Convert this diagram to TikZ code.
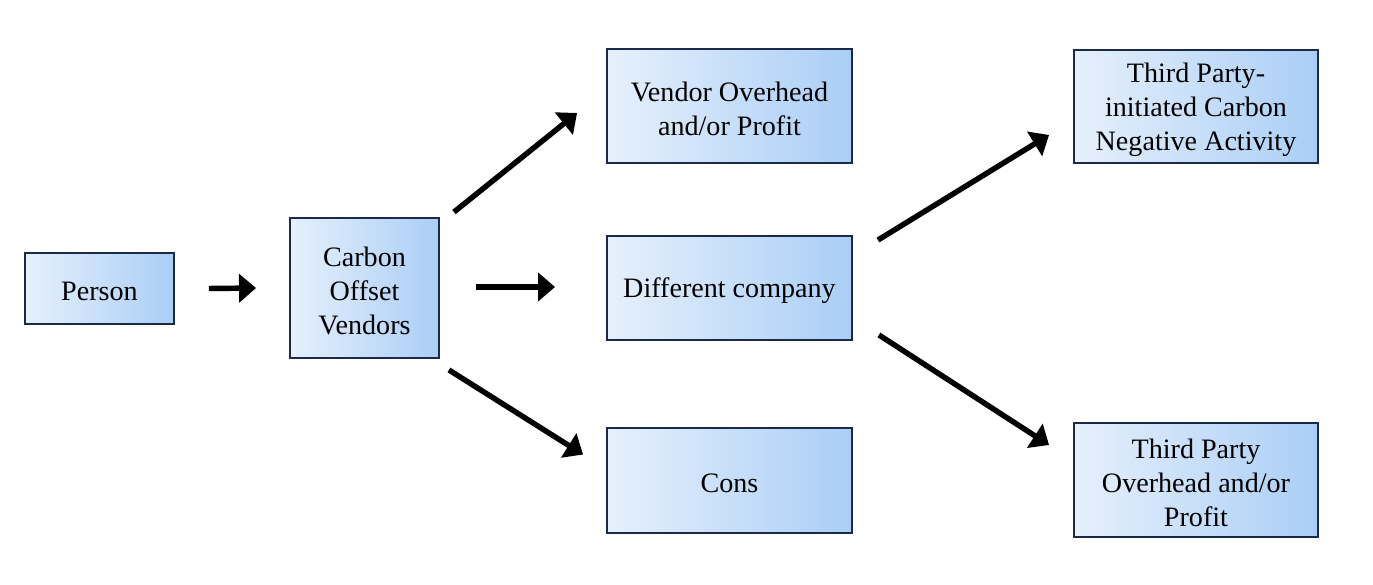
\documentclass[tikz,border=0pt]{standalone}
\usepackage{fontspec}
\setmainfont{Liberation Serif}
\usepackage{tikz}
\usetikzlibrary{calc}
\usetikzlibrary{arrows.meta}
\definecolor{boxline}{HTML}{1C2A4A}
\definecolor{boxleft}{HTML}{E6F0FC}
\definecolor{boxright}{HTML}{AACEF6}
\tikzset{
  stage/.style={draw=boxline, line width=1.1pt, left color=boxleft, right color=boxright,
    inner sep=0pt},
  stagetext/.style={align=center, inner sep=0pt, font=\fontsize{16}{19.3}\selectfont},
  flow/.style={line width=3.1pt, -{Triangle[length=0.34cm,width=0.56cm]}}
}
\newcommand{\stagebox}[5]{\node[stage, minimum width=#4cm, minimum height=#5cm] (#1) at (#2) {};
  \node[stagetext] at ($(#1.center)+(0,3)$) {#3};}

\begin{document}
\begin{tikzpicture}[x=0.02cm, y=-0.02cm]
        \useasboundingbox (0,0) rectangle (1373,585);

        % column1
        \stagebox{person}{99.5,288.5}{Person}{2.98}{1.42}
        \stagebox{vendors}{364.5,288}{Carbon\\Offset\\Vendors}{2.98}{2.80}

        % column2
        \stagebox{overhead}{729.5,106}{Vendor Overhead\\and/or Profit}{4.90}{2.28}
        \stagebox{company}{729.5,288}{Different company}{4.90}{2.08}
        \stagebox{cons}{729.5,480.5}{Cons}{4.90}{2.10}

        % column3
        \stagebox{activity}{1196,106.5}{Third Party-\\initiated Carbon\\Negative Activity}{4.88}{2.26}
        \stagebox{thirdprofit}{1196,480}{Third Party\\Overhead and/or\\Profit}{4.88}{2.28}

        % arrows
        \draw[flow] ($(person.east)+(34,0)$) -- ($(vendors.west)+(-33,0)$);
        \draw[flow] ($(vendors.east)+(36,-1)$) -- ($(company.west)+(-51,-1)$);
        \draw[flow] ($(vendors.north east)+(14,-5)$) -- ($(overhead.west)+(-29,7)$);
        \draw[flow] ($(vendors.south east)+(9,11)$) -- ($(cons.west)+(-23,-26)$);
        \draw[flow] ($(company.north east)+(25,5)$) -- ($(activity.west)+(-24,28.5)$);
        \draw[flow] ($(company.south east)+(26,-6)$) -- ($(thirdprofit.west)+(-24,-35)$);
    \end{tikzpicture}
\end{document}
